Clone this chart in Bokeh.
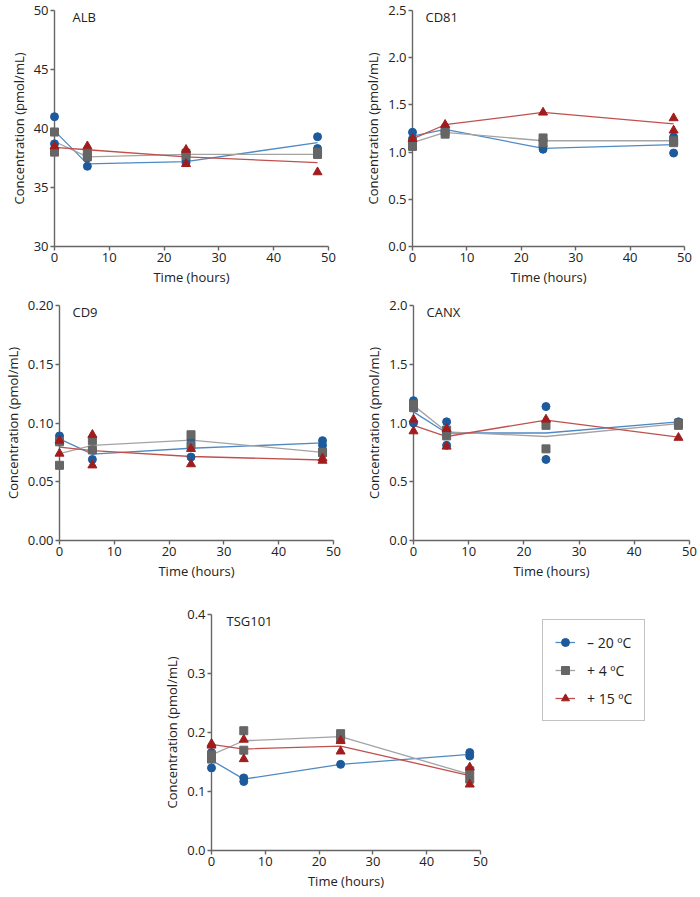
from bokeh.plotting import figure
from bokeh.layouts import column, row, Spacer
from bokeh.models import Label, Legend, LegendItem, FixedTicker
from bokeh.embed import file_html
from bokeh.resources import INLINE

FONT = "Open Sans"

times = [0, 6, 24, 48]
series_names = ["\u2013 20 \u00baC", "+ 4 \u00baC", "+ 15 \u00baC"]
x_ticks = [0, 10, 20, 30, 40, 50]

# ---------------- ALB ----------------
alb_m20_mean = [39.8, 37.0, 37.2, 38.8]
alb_m20_rep_t = [0, 0, 6, 6, 24, 24, 48, 48, 48]
alb_m20_rep = [41.0, 38.7, 37.5, 36.8, 37.3, 37.1, 39.3, 38.3, 38.1]
alb_p4_mean = [38.9, 37.6, 37.8, 37.8]
alb_p4_rep_t = [0, 0, 6, 6, 24, 24, 48, 48]
alb_p4_rep = [39.7, 38.0, 37.9, 37.6, 37.9, 37.7, 37.8, 38.0]
alb_p15_mean = [38.4, 38.2, 37.6, 37.1]
alb_p15_rep_t = [0, 6, 24, 24, 48]
alb_p15_rep = [38.5, 38.5, 38.2, 37.0, 36.3]
alb_ticks = [30, 35, 40, 45, 50]
alb_tick_labels = ["30", "35", "40", "45", "50"]

# ---------------- CD81 ----------------
cd81_m20_mean = [1.17, 1.24, 1.04, 1.08]
cd81_m20_rep_t = [0, 0, 6, 6, 24, 24, 48, 48]
cd81_m20_rep = [1.21, 1.14, 1.22, 1.26, 1.06, 1.03, 1.16, 0.99]
cd81_p4_mean = [1.10, 1.21, 1.12, 1.12]
cd81_p4_rep_t = [0, 0, 6, 6, 24, 24, 48, 48]
cd81_p4_rep = [1.06, 1.10, 1.19, 1.22, 1.15, 1.10, 1.12, 1.10]
cd81_p15_mean = [1.14, 1.29, 1.42, 1.30]
cd81_p15_rep_t = [0, 6, 24, 48, 48]
cd81_p15_rep = [1.14, 1.29, 1.42, 1.36, 1.23]
cd81_ticks = [0.0, 0.5, 1.0, 1.5, 2.0, 2.5]
cd81_tick_labels = ["0.0", "0.5", "1.0", "1.5", "2.0", "2.5"]

# ---------------- CD9 ----------------
cd9_m20_mean = [0.0865, 0.0735, 0.0785, 0.083]
cd9_m20_rep_t = [0, 0, 6, 6, 24, 24, 48, 48]
cd9_m20_rep = [0.089, 0.084, 0.077, 0.069, 0.086, 0.071, 0.085, 0.081]
cd9_p4_mean = [0.074, 0.081, 0.0855, 0.075]
cd9_p4_rep_t = [0, 0, 6, 6, 24, 24, 48, 48]
cd9_p4_rep = [0.064, 0.084, 0.085, 0.077, 0.090, 0.081, 0.075, 0.075]
cd9_p15_mean = [0.0795, 0.0765, 0.0715, 0.0685]
cd9_p15_rep_t = [0, 0, 6, 6, 24, 24, 48, 48]
cd9_p15_rep = [0.074, 0.085, 0.090, 0.064, 0.078, 0.065, 0.070, 0.068]
cd9_ticks = [0.0, 0.05, 0.10, 0.15, 0.20]
cd9_tick_labels = ["0.00", "0.05", "0.10", "0.15", "0.20"]

# ---------------- CANX ----------------
canx_m20_mean = [1.095, 0.915, 0.915, 1.01]
canx_m20_rep_t = [0, 0, 6, 6, 24, 24, 48, 48]
canx_m20_rep = [1.19, 1.00, 1.01, 0.81, 1.14, 0.69, 1.01, 1.00]
canx_p4_mean = [1.15, 0.925, 0.885, 0.995]
canx_p4_rep_t = [0, 0, 6, 6, 24, 24, 48, 48]
canx_p4_rep = [1.13, 1.16, 0.94, 0.89, 0.98, 0.78, 0.98, 1.00]
canx_p15_mean = [0.98, 0.885, 1.025, 0.88]
canx_p15_rep_t = [0, 0, 6, 6, 24, 48]
canx_p15_rep = [1.03, 0.93, 0.80, 0.95, 1.03, 0.875]
canx_ticks = [0.0, 0.5, 1.0, 1.5, 2.0]
canx_tick_labels = ["0.0", "0.5", "1.0", "1.5", "2.0"]

# ---------------- TSG101 ----------------
tsg_m20_mean = [0.153, 0.121, 0.146, 0.163]
tsg_m20_rep_t = [0, 0, 6, 6, 24, 48, 48]
tsg_m20_rep = [0.166, 0.140, 0.123, 0.117, 0.146, 0.166, 0.160]
tsg_p4_mean = [0.162, 0.186, 0.193, 0.129]
tsg_p4_rep_t = [0, 0, 6, 6, 24, 24, 48, 48]
tsg_p4_rep = [0.155, 0.162, 0.203, 0.170, 0.198, 0.188, 0.135, 0.121]
tsg_p15_mean = [0.180, 0.172, 0.177, 0.127]
tsg_p15_rep_t = [0, 0, 6, 6, 24, 24, 48, 48]
tsg_p15_rep = [0.181, 0.178, 0.188, 0.155, 0.186, 0.168, 0.141, 0.112]
tsg_ticks = [0.0, 0.1, 0.2, 0.3, 0.4]
tsg_tick_labels = ["0.0", "0.1", "0.2", "0.3", "0.4"]

# styles
MARKER_COLORS = ["#1c5a9c", "#666666", "#a11d1d"]
LINE_COLORS = ["#4f8ac4", "#a3a3a3", "#c0504d"]
MARKERS = ["circle", "square", "triangle"]
MARKER_SIZES = [8, 8, 9]
AXIS_COLOR = "#666666"
TEXT_COLOR = "#222222"


def make_panel(name, means, reps, yticks, ylabels, width, height, mb_left, mb_right, mb_top, mb_bottom, label_dx):
    y0, y1 = yticks[0], yticks[-1]
    p = figure(width=width, height=height, x_range=(0, 50), y_range=(y0, y1),
               output_backend="svg", toolbar_location=None,
               min_border_left=mb_left, min_border_right=mb_right,
               min_border_top=mb_top, min_border_bottom=mb_bottom)
    p.outline_line_color = None
    p.grid.visible = False
    p.background_fill_color = "white"
    p.border_fill_color = "white"
    for ax in (p.xaxis[0], p.yaxis[0]):
        ax.axis_line_color = AXIS_COLOR
        ax.axis_line_width = 1.4
        ax.major_tick_line_color = AXIS_COLOR
        ax.major_tick_line_width = 1.4
        ax.major_tick_out = 4
        ax.major_tick_in = 0
        ax.minor_tick_line_color = None
        ax.major_label_text_font = FONT
        ax.major_label_text_font_size = "13px"
        ax.major_label_text_color = TEXT_COLOR
        ax.major_label_standoff = 2
        ax.axis_label_text_font = FONT
        ax.axis_label_text_font_size = "13px"
        ax.axis_label_text_font_style = "normal"
        ax.axis_label_text_color = TEXT_COLOR
        ax.axis_label_standoff = 3
    p.xaxis.ticker = FixedTicker(ticks=x_ticks)
    p.yaxis.ticker = FixedTicker(ticks=yticks)
    p.yaxis.major_label_overrides = {t: l for t, l in zip(yticks, ylabels)}
    p.xaxis.axis_label = "Time (hours)"
    p.yaxis.axis_label = "Concentration (pmol/mL)"

    for i in range(3):
        p.line(times, means[i], line_color=LINE_COLORS[i], line_width=1.3, level="overlay")
    for i in range(3):
        rt, rv = reps[i]
        p.scatter(rt, rv, marker=MARKERS[i], size=MARKER_SIZES[i],
                  fill_color=MARKER_COLORS[i], line_color=MARKER_COLORS[i], level="overlay")

    p.add_layout(Label(x=0, y=y1, x_offset=label_dx, y_offset=3, text=name,
                       text_font=FONT, text_font_size="13px", text_color=TEXT_COLOR,
                       text_baseline="top", text_align="left"))
    return p


p1 = make_panel("ALB",
                [alb_m20_mean, alb_p4_mean, alb_p15_mean],
                [(alb_m20_rep_t, alb_m20_rep), (alb_p4_rep_t, alb_p4_rep), (alb_p15_rep_t, alb_p15_rep)],
                alb_ticks, alb_tick_labels, 350, 291, 54, 22, 10, 45, 18)
p2 = make_panel("CD81",
                [cd81_m20_mean, cd81_p4_mean, cd81_p15_mean],
                [(cd81_m20_rep_t, cd81_m20_rep), (cd81_p4_rep_t, cd81_p4_rep), (cd81_p15_rep_t, cd81_p15_rep)],
                cd81_ticks, cd81_tick_labels, 350, 291, 62, 16, 10, 45, 13)
p3 = make_panel("CD9",
                [cd9_m20_mean, cd9_p4_mean, cd9_p15_mean],
                [(cd9_m20_rep_t, cd9_m20_rep), (cd9_p4_rep_t, cd9_p4_rep), (cd9_p15_rep_t, cd9_p15_rep)],
                cd9_ticks, cd9_tick_labels, 350, 294, 59, 17, 14, 45, 13)
p4 = make_panel("CANX",
                [canx_m20_mean, canx_p4_mean, canx_p15_mean],
                [(canx_m20_rep_t, canx_m20_rep), (canx_p4_rep_t, canx_p4_rep), (canx_p15_rep_t, canx_p15_rep)],
                canx_ticks, canx_tick_labels, 350, 294, 63, 11, 14, 45, 13)
p5 = make_panel("TSG101",
                [tsg_m20_mean, tsg_p4_mean, tsg_p15_mean],
                [(tsg_m20_rep_t, tsg_m20_rep), (tsg_p4_rep_t, tsg_p4_rep), (tsg_p15_rep_t, tsg_p15_rep)],
                tsg_ticks, tsg_tick_labels, 330, 310, 48, 10, 29, 45, 15)

# legend figure (series drawn off-view, used only for legend glyphs);
# its frame is aligned with the TSG101 frame by the row layout
pl = figure(width=160, height=310, x_range=(1000, 1001), y_range=(1000, 1001),
            output_backend="svg", toolbar_location=None,
            x_axis_location=None, y_axis_location=None,
            min_border_left=0, min_border_right=0, min_border_top=0, min_border_bottom=0)
pl.outline_line_color = None
pl.grid.visible = False
items = []
tsg_means = [tsg_m20_mean, tsg_p4_mean, tsg_p15_mean]
for i in range(3):
    ln = pl.line(times, tsg_means[i], line_color=LINE_COLORS[i], line_width=1.3)
    sc = pl.scatter(times, tsg_means[i], marker=MARKERS[i], size=MARKER_SIZES[i],
                    fill_color=MARKER_COLORS[i], line_color=MARKER_COLORS[i])
    items.append(LegendItem(label=series_names[i], renderers=[ln, sc]))
legend = Legend(items=items, location="top_left",
                label_text_font=FONT, label_text_font_size="14px", label_text_color=TEXT_COLOR,
                border_line_color="#888888", border_line_width=1.2,
                background_fill_color="white", background_fill_alpha=1.0,
                padding=12, spacing=8, glyph_width=20, glyph_height=20, label_height=20,
                label_standoff=12, margin=5)
pl.add_layout(legend)

layout = column(
    row(p1, p2),
    row(p3, p4),
    row(Spacer(width=160, height=310), p5, Spacer(width=47, height=310), pl),
)

open("out.html", "w").write(file_html(layout, INLINE))
